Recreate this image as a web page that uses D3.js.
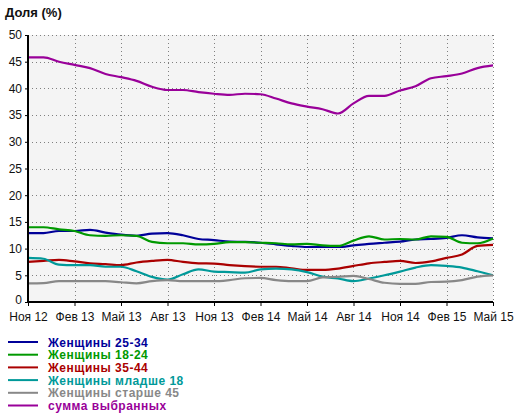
<!DOCTYPE html>
<html>
<head>
<meta charset="utf-8">
<script src="https://cdn.jsdelivr.net/npm/d3@7"></script>
<style>
  body { margin: 0; background: #fff; }
  text { font-family: Arial, "Liberation Sans", sans-serif; }
</style>
</head>
<body>
<div id="chart"></div>
<script>
// месяцы с ноября 2012 по май 2015
const months = d3.range(31).map(function (i) { return new Date(2012, 10 + i, 1); });
const tickLabels = ['Ноя 12', 'Фев 13', 'Май 13', 'Авг 13', 'Ноя 13', 'Фев 14',
                    'Май 14', 'Авг 14', 'Ноя 14', 'Фев 15', 'Май 15'];
const yTicks = [0, 5, 10, 15, 20, 25, 30, 35, 40, 45, 50];

const women25_34 = [12.9, 12.9, 13.3, 13.3, 13.5, 13.0, 12.6, 12.4, 12.8, 12.9, 12.5, 11.8, 11.6, 11.3, 11.25, 11.1,
                    10.8, 10.5, 10.3, 10.3, 10.3, 10.6, 10.9, 11.1, 11.3, 11.7, 11.8, 12.0, 12.5, 12.1, 11.9];
const women18_24 = [14.0, 14.0, 13.6, 13.3, 12.5, 12.4, 12.5, 12.4, 11.25, 11.0, 11.0, 10.8, 10.9, 11.2, 11.2, 11.1,
                    11.0, 10.8, 10.9, 10.6, 10.5, 11.5, 12.3, 11.7, 11.8, 11.7, 12.3, 12.2, 11.1, 11.0, 11.9];
const women35_44 = [7.5, 7.7, 7.9, 7.6, 7.25, 7.1, 6.9, 7.4, 7.7, 7.9, 7.5, 7.25, 7.2, 6.9, 6.7, 6.6,
                    6.6, 6.3, 6.0, 6.0, 6.25, 6.75, 7.25, 7.5, 7.7, 7.3, 7.6, 8.25, 8.9, 10.5, 10.7];
const womenUnder18 = [8.25, 8.1, 7.0, 6.9, 6.9, 6.6, 6.6, 5.75, 4.7, 4.2, 5.2, 6.1, 5.7, 5.6, 5.5, 6.1,
                      6.25, 6.1, 5.6, 4.75, 4.4, 3.9, 4.4, 5.0, 5.7, 6.45, 6.9, 6.75, 6.45, 5.75, 5.0];
const womenOver45 = [3.5, 3.55, 3.9, 3.9, 3.9, 3.9, 3.7, 3.5, 3.9, 4.1, 3.9, 3.9, 3.9, 4.1, 4.45, 4.5,
                     4.1, 3.9, 3.9, 4.6, 4.7, 4.9, 4.3, 3.6, 3.4, 3.4, 3.75, 3.8, 4.1, 4.75, 5.0];
const selectedSum = [45.8, 45.8, 45.0, 44.4, 43.8, 42.7, 42.1, 41.4, 40.3, 39.7, 39.7, 39.3, 39.0, 38.8, 39.0, 38.9,
                     38.1, 37.2, 36.6, 36.1, 35.3, 37.2, 38.6, 38.6, 39.6, 40.4, 41.9, 42.3, 42.8, 43.8, 44.3];

const seriesNames = ['Женщины 25-34', 'Женщины 18-24', 'Женщины 35-44', 'Женщины младше 18',
                     'Женщины старше 45', 'сумма выбранных'];
const seriesValues = [women25_34, women18_24, women35_44, womenUnder18, womenOver45, selectedSum];
const colors = ['#000099', '#009900', '#aa0000', '#009999', '#888888', '#990099'];

const width = 520;
const height = 418;
const plot = { left: 28, right: 493, top: 35, bottom: 302 };

var svg = d3.select('#chart').append('svg')
    .attr('width', width)
    .attr('height', height);

var x = d3.scaleLinear().domain([0, 30]).range([plot.left, plot.right]);
var y = d3.scaleLinear().domain([0, 50]).range([plot.bottom, plot.top]);

// фон области графика
svg.append('rect')
    .attr('x', plot.left).attr('y', plot.top)
    .attr('width', plot.right - plot.left).attr('height', plot.bottom - plot.top)
    .attr('fill', '#f4f4f4');

// сетка
var grid = svg.append('g').attr('stroke', '#808080').attr('stroke-dasharray', '1,3');
yTicks.slice(1).forEach(function (v) {
    grid.append('line')
        .attr('x1', plot.left).attr('x2', plot.right + 0.5)
        .attr('y1', Math.round(y(v)) + 0.5).attr('y2', Math.round(y(v)) + 0.5);
});
tickLabels.forEach(function (t, i) {
    if (i === 0) return;
    var px = Math.round(x(i * 3)) + 0.5;
    grid.append('line')
        .attr('x1', px).attr('x2', px)
        .attr('y1', plot.top).attr('y2', plot.bottom);
});

// линии серий
var line = d3.line()
    .x(function (d, i) { return x(i); })
    .y(function (d) { return y(d); })
    .curve(d3.curveMonotoneX);

seriesValues.forEach(function (values, k) {
    svg.append('path')
        .datum(values)
        .attr('fill', 'none')
        .attr('stroke', colors[k])
        .attr('stroke-width', 2.2)
        .attr('d', line);
});

// оси
var yAxis = d3.axisLeft(y).tickValues(yTicks).tickSize(3).tickPadding(3);
var xAxis = d3.axisBottom(x)
    .tickValues(d3.range(0, 31, 3))
    .tickFormat(function (d) { return tickLabels[d / 3]; })
    .tickSize(4).tickPadding(6);

var gy = svg.append('g').attr('transform', 'translate(' + plot.left + ',0)').call(yAxis);
var gx = svg.append('g').attr('transform', 'translate(0,' + plot.bottom + ')').call(xAxis);
[gy, gx].forEach(function (g) {
    g.select('.domain').attr('stroke', '#000').attr('stroke-width', 2);
    g.selectAll('.tick line').attr('stroke', '#000');
    g.selectAll('.tick text')
        .attr('fill', '#111')
        .style('font-size', '12px')
        .style('font-family', 'Arial, "Liberation Sans", sans-serif');
});
gy.select('.domain').attr('d', 'M0,' + plot.bottom + 'V' + plot.top);
gx.select('.domain').attr('d', 'M' + plot.left + ',0H' + plot.right);
// "0" чуть выше, чтобы не наезжал на подпись "Ноя 12"
gy.selectAll('.tick text').filter(function (d) { return d === 0; }).attr('dy', '0.1em');

// заголовок
svg.append('text')
    .attr('x', 5).attr('y', 17)
    .attr('font-size', '13px').attr('font-weight', 'bold')
    .attr('fill', '#111')
    .text('Доля (%)');

// легенда
var legend = svg.append('g');
seriesNames.forEach(function (name, k) {
    var ly = 342 + k * 12.7;
    legend.append('line')
        .attr('x1', 8).attr('x2', 38)
        .attr('y1', ly).attr('y2', ly)
        .attr('stroke', colors[k]).attr('stroke-width', 2);
    legend.append('text')
        .attr('x', 48).attr('y', ly + 4.5)
        .attr('font-size', '12px').attr('font-weight', 'bold')
        .attr('letter-spacing', '0.5px')
        .attr('fill', colors[k])
        .text(name);
});
</script>
</body>
</html>
